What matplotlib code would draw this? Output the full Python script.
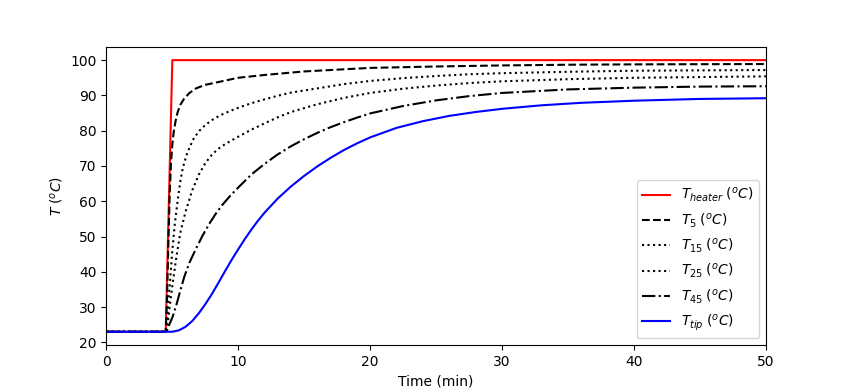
import matplotlib
matplotlib.use("Agg")
import matplotlib.pyplot as plt

# Heater
t_heater = [0, 4.5, 5.0, 50]
T_heater = [23, 23, 100, 100]

# T5
t_5 = [0, 4.5, 4.6, 4.7, 4.8, 4.9, 5.0, 5.1, 5.25, 5.4, 5.6, 5.9, 6.3, 6.8, 7.5, 8.5,
       10, 12, 15, 20, 25, 30, 35, 40, 45, 50]
T_5 = [23, 23, 33, 48, 62, 71, 76, 79.5, 82.8, 85.2, 87.3, 89.1, 90.7, 92.0, 93.0, 93.8,
       95.0, 95.8, 96.8, 97.8, 98.2, 98.5, 98.7, 98.8, 98.85, 98.9]

# T15
t_15 = [0, 4.5, 4.6, 4.8, 5.0, 5.2, 5.4, 5.6, 5.8, 6.05, 6.3, 6.6, 7.0, 7.5, 8.0, 8.5,
        9.0, 10, 11, 12, 13, 14, 16, 18, 20, 22.5, 25, 27.5, 30, 35, 40, 45, 50]
T_15 = [23, 23, 26, 36, 46, 54, 60, 65.5, 69.5, 72.8, 75.2, 77.6, 79.8, 81.6, 83.0, 84.1,
        85.0, 86.5, 87.8, 88.9, 89.9, 90.8, 92.0, 93.2, 94.1, 94.9, 95.5, 96.0, 96.3,
        96.7, 97.0, 97.1, 97.2]

# T25
t_25 = [0, 4.55, 4.6, 4.8, 5.0, 5.3, 5.6, 6.0, 6.5, 7.0, 7.5, 8.0, 8.5, 9.0, 10, 11, 12,
        13, 14, 16, 18, 20, 22.5, 25, 27.5, 30, 35, 40, 45, 50]
T_25 = [23, 23, 23.5, 30, 36, 44, 51, 57, 63, 67.5, 70.8, 73.2, 74.9, 76.2, 78.3, 80.3,
        82.1, 83.8, 85.3, 87.5, 89.3, 90.7, 91.9, 92.8, 93.5, 94.0, 94.6, 95.0, 95.2, 95.4]

# T45
t_45 = [0, 4.55, 4.65, 5.0, 5.3, 5.6, 5.9, 6.3, 6.8, 7.3, 7.8, 8.3, 8.8, 9.4, 10, 11,
        12, 13, 14, 15, 16, 17, 18, 19, 20, 22.5, 25, 27.5, 30, 35, 40, 45, 50]
T_45 = [23, 23, 24.0, 27.0, 30.5, 34.6, 38.5, 42.6, 46.6, 50.3, 53.6, 56.5, 59.0, 61.6,
        63.9, 67.6, 70.6, 73.3, 75.6, 77.6, 79.4, 81.0, 82.4, 83.7, 84.9, 87.0, 88.6,
        89.8, 90.7, 91.7, 92.2, 92.5, 92.6]

# Ttip
t_tip = [0, 5.0, 5.5, 6.0, 6.5, 7.0, 7.5, 8.0, 8.5, 9.0, 9.5, 10, 10.5, 11, 11.5, 12,
         13, 14, 15, 16, 17, 18, 19, 20, 22, 24, 26, 28, 30, 33, 36, 40, 45, 50]
T_tip = [23, 23, 23.4, 24.4, 26.0, 28.2, 30.8, 33.7, 36.9, 40.2, 43.4, 46.4, 49.3, 52.0,
         54.5, 56.8, 60.8, 64.2, 67.2, 69.9, 72.3, 74.5, 76.4, 78.1, 80.8, 82.7, 84.2,
         85.3, 86.2, 87.2, 87.9, 88.5, 89.0, 89.2]

fig, ax = plt.subplots(figsize=(8.51, 3.88), dpi=100)
ax.plot(t_heater, T_heater, 'r-', label=r'$T_{heater}\;(^oC)$')
ax.plot(t_5, T_5, 'k--', label=r'$T_5\;(^oC)$')
ax.plot(t_15, T_15, 'k:', label=r'$T_{15}\;(^oC)$')
ax.plot(t_25, T_25, 'k:', label=r'$T_{25}\;(^oC)$')
ax.plot(t_45, T_45, 'k-.', label=r'$T_{45}\;(^oC)$')
ax.plot(t_tip, T_tip, 'b-', label=r'$T_{tip}\;(^oC)$')
ax.set_xlim(0, 50)
ax.set_xlabel('Time (min)')
ax.set_ylabel(r'$T\;(^oC)$')
ax.legend(loc='lower right')
fig.savefig('out.png', dpi=100)
